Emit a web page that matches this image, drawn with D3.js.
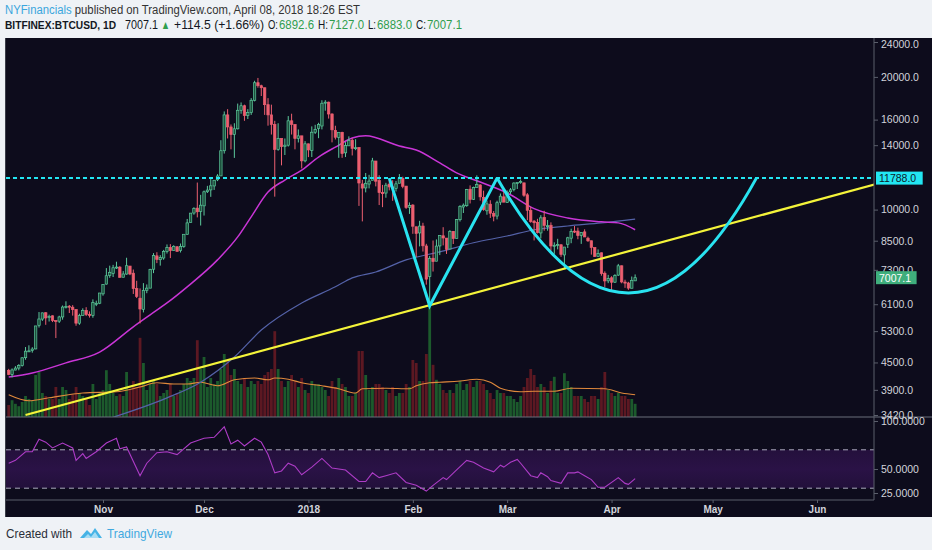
<!DOCTYPE html>
<html><head><meta charset="utf-8">
<script src="https://cdn.jsdelivr.net/npm/d3@7"></script>
<style>
html,body{margin:0;padding:0;background:#eff2f6;}
svg{display:block;}
</style>
</head><body>
<svg id="chart" width="932" height="550"></svg>
<script>
// ---------------- DATA ----------------
const startDate = "2017-10-04"; // first daily candle
// Oct 4-31, Nov, Dec, Jan, Feb, Mar, Apr 1-8
const opens = [
 4319,4229,4325,4370,4429,4614,4777,4790,4829,5464,5643,5835,5687,5741,5603,5583,5708,6006,6037,6006,5935,5524,5747,5904,5787,5754,6114,6132,
 6440,6777,7087,7164,7404,7403,7023,7141,7446,7173,6618,6295,5938,6561,6634,7324,7853,7697,7766,8039,8205,8077,8233,8074,8241,8790,9352,9823,10077,9906,
 10198,10978,11083,11315,11685,11923,13600,16400,15400,14800,15250,16800,17200,16350,16600,17700,19400,19100,18900,17300,16400,15600,13700,14500,13900,14000,15900,15600,14500,14700,12900,
 14100,13625,14978,15270,15477,17462,17527,16476,15123,14588,14968,13453,13952,14370,13767,13836,11432,11198,11429,11656,12889,11633,10944,10903,11421,11256,11175,11475,11755,11306,10109,
 10237,9142,8852,9175,8270,7051,7755,7637,8271,8720,8616,8141,8927,8599,9488,10135,10207,11123,10552,11231,11372,10660,9937,10287,9796,9669,10393,10687,
 10385,10977,11101,11497,11532,11500,10803,9951,9414,9350,8852,9602,9173,9214,8290,8322,8321,7891,8344,8613,8938,8939,8736,8901,8612,8499,8201,7836,7979,7171,6892,
 7003,6844,7102,7456,6848,6815,6631,6892.6
];
const highs = [
 4352,4362,4414,4460,4624,4878,4922,4874,5446,5856,5837,5852,5776,5755,5603,5744,6060,6194,6075,6071,5935,5805,5971,6006,5876,6255,6214,6470,
 6772,7367,7461,7492,7617,7445,7253,7776,7446,7312,6895,6625,6811,6764,7342,7967,8004,7884,8101,8336,8348,8302,8268,8375,8790,9523,9818,10125,11517,10801,
 11046,11320,11859,11657,12032,14369,16700,16900,15600,15700,17400,17500,17300,16900,17900,19600,19891,19200,18900,17900,17300,15900,15700,14500,14500,16300,16500,15600,15200,14700,14300,
 14112,15444,15572,15739,17705,17712,17579,16537,15497,14973,15018,14229,14659,14511,14445,13843,11678,12107,11992,13103,12895,11966,11377,11501,11785,11656,11614,12040,11875,11307,10381,
 10289,9142,9430,9334,8364,7850,8509,8558,8736,9122,8616,8985,8942,9518,10234,10324,11139,11349,11274,11958,11418,11039,10487,10501,9923,10475,10878,11089,
 11052,11190,11528,11512,11704,11500,10899,10148,9466,9531,9711,9937,9470,9355,8428,8585,8346,8202,8675,9051,9177,9100,8879,9021,8682,8499,8201,8122,7994,7243,7111,
 7060,7135,7530,7469,6933,6857,7050,7127
];
const lows = [
 4210,4164,4320,4319,4405,4564,4751,4736,4822,5400,5591,5478,5573,5556,5112,5531,5627,5965,5826,5747,5451,5478,5748,5734,5689,5684,6040,6103,
 6378,6758,7002,7031,7333,7000,7023,7115,7101,6436,6300,5519,5844,6461,6634,7176,7561,7463,7694,7949,7762,8075,8038,7992,8191,8775,9352,9736,9601,9202,
 9694,10905,10689,11081,11604,11923,13400,14500,13700,13100,15200,16500,15900,16050,16400,17600,18900,18100,16400,15500,14800,10700,13600,12600,13300,13900,14800,13700,14200,12400,12800,
 13154,13163,14844,14522,15202,16764,16087,14208,14424,13105,13105,13158,13952,13268,13641,10194,9402,10942,11172,11656,11288,10240,10129,10639,11057,10470,10989,11475,11179,10036,9777,
 8812,7797,8251,8031,6756,6048,7236,7637,7884,8295,7931,8141,8354,8599,9395,9824,10149,10326,10513,11231,10479,9939,9734,9574,9407,9501,10247,10393,
 10352,10850,11002,11136,11443,10694,9466,9334,8513,8828,8607,8956,8958,8068,7937,8124,7812,7354,8182,8389,8846,8564,8360,8665,8449,7905,7806,7809,7081,6677,6810,
 6526,6817,7072,6804,6644,6575,6630,6883
];
const closes = [
 4229,4328,4370,4426,4611,4773,4782,4826,5446,5647,5831,5678,5726,5605,5590,5708,6011,6031,6008,5930,5526,5750,5904,5780,5753,6153,6130,6468,
 6767,7078,7207,7379,7407,7022,7144,7459,7143,6618,6357,5950,6559,6635,7315,7871,7708,7790,8036,8200,8071,8253,8038,8253,8790,9330,9818,10058,9888,10233,
 10975,11074,11323,11657,11916,13600,16400,15400,14800,15250,16800,17200,16350,16600,17700,19400,19100,18900,17300,16400,15600,13700,14500,13900,14000,15900,15600,14500,14700,12900,14100,
 13657,14982,15201,15599,17429,17527,16477,15170,14595,14973,13405,13980,14360,13772,13819,11490,11188,11474,11607,12899,11600,10931,10868,11359,11259,11171,11440,11786,11296,10106,10221,
 9170,8830,9174,8277,6955,7754,7621,8265,8736,8621,8129,8926,8598,9494,10166,10233,11112,10551,11225,11403,10690,10005,10301,9813,9664,10366,10725,10397,
 10951,11086,11489,11512,11573,10779,9965,9395,9337,8866,9578,9205,9194,8269,8300,8338,7916,8223,8630,8913,8929,8728,8879,8668,8495,8209,7833,7954,7165,6890,6973,
 6844,7083,7456,6853,6811,6636,6911,7007.1
];
const volumes = [
 20,28,22,18,25,35,30,28,70,75,40,35,30,30,50,30,50,45,30,38,50,40,35,30,20,55,30,40,
 45,78,55,40,35,38,35,75,45,60,50,132,90,45,55,60,55,35,40,45,55,35,40,45,55,65,60,65,128,80,
 100,50,65,55,60,80,105,95,70,80,60,55,65,50,60,55,60,55,70,75,80,143,80,60,50,60,70,60,50,65,45,
 40,60,55,55,50,45,35,60,50,65,55,50,35,35,40,110,110,70,45,50,55,55,50,45,40,50,35,40,40,55,50,
 95,90,60,60,105,190,87,62,55,45,40,45,40,55,60,45,55,60,50,60,60,55,45,40,30,45,40,40,
 35,35,30,25,35,50,65,80,70,50,55,50,40,60,67,40,40,73,60,50,35,35,35,30,25,35,35,30,50,75,45,
 40,35,40,35,35,30,30,22
];
// volume moving average
const volMA = [
 ["2017-10-04",37],["2017-10-10",27],["2017-10-16",32],["2017-10-26",40],["2017-11-05",42],["2017-11-12",50],
 ["2017-11-17",57],["2017-11-22",55],["2017-11-26",55],["2017-11-30",58],["2017-12-05",52],["2017-12-10",62],
 ["2017-12-16",65],["2017-12-20",62],["2017-12-22",65],["2017-12-26",63],["2017-12-30",57],["2018-01-05",52],
 ["2018-01-10",47],["2018-01-15",40],["2018-01-17",47],["2018-01-24",48],["2018-01-31",47],["2018-02-02",52],
 ["2018-02-06",57],["2018-02-09",58],["2018-02-15",60],["2018-02-20",63],["2018-02-24",58],["2018-02-27",48],
 ["2018-03-05",42],["2018-03-09",43],["2018-03-15",43],["2018-03-20",48],["2018-03-30",47],["2018-04-04",40],["2018-04-08",37]
];
// 50-day moving average (magenta)
const ma50 = [
 ["2017-10-04",4170],["2017-10-11",4260],["2017-10-21",4490],["2017-10-31",4750],["2017-11-10",5420],["2017-11-15",5770],
 ["2017-11-20",6140],["2017-11-26",6680],["2017-12-05",7690],["2017-12-11",8670],["2017-12-15",9630],["2017-12-20",10960],
 ["2017-12-25",11670],["2017-12-30",12290],["2018-01-04",13160],["2018-01-09",13860],["2018-01-14",14530],["2018-01-18",14700],
 ["2018-01-28",13940],["2018-02-02",13650],["2018-02-09",12760],["2018-02-14",12110],["2018-02-21",11550],["2018-03-01",10910],
 ["2018-03-09",10050],["2018-03-19",9570],["2018-03-29",9380],["2018-04-03",9330],["2018-04-08",9000]
];
// 200-day moving average (blue)
const ma200 = [
 ["2017-11-04",3380],["2017-11-20",3740],["2017-11-30",4060],["2017-12-10",4630],["2017-12-18",5330],["2017-12-30",6140],
 ["2018-01-09",6680],["2018-01-14",7000],["2018-01-21",7220],["2018-01-30",7690],["2018-02-09",8020],["2018-02-19",8410],
 ["2018-03-01",8710],["2018-03-09",9000],["2018-03-19",9180],["2018-03-29",9330],["2018-04-08",9520]
];
// RSI(14)
const rsi = [
 ["2017-10-04",56],["2017-10-06",59],["2017-10-09",68],["2017-10-11",68],["2017-10-13",81],["2017-10-15",78],["2017-10-17",72],
 ["2017-10-20",77],["2017-10-23",72],["2017-10-24",59],["2017-10-26",66],["2017-10-27",61],["2017-10-30",68],["2017-11-02",77],
 ["2017-11-05",82],["2017-11-06",71],["2017-11-08",73],["2017-11-12",43],["2017-11-14",56],["2017-11-17",67],["2017-11-20",68],
 ["2017-11-23",65],["2017-11-27",77],["2017-12-01",82],["2017-12-04",83],["2017-12-07",94],["2017-12-09",76],["2017-12-11",80],
 ["2017-12-13",74],["2017-12-16",82],["2017-12-18",78],["2017-12-20",65],["2017-12-22",46],["2017-12-24",48],["2017-12-26",56],
 ["2017-12-28",53],["2017-12-30",44],["2018-01-02",52],["2018-01-05",61],["2018-01-08",51],["2018-01-12",49],["2018-01-16",37],
 ["2018-01-18",37],["2018-01-20",46],["2018-01-22",41],["2018-01-24",43],["2018-01-27",46],["2018-01-30",36],["2018-02-02",33],
 ["2018-02-05",27],["2018-02-07",33],["2018-02-10",41],["2018-02-11",39],["2018-02-14",49],["2018-02-17",59],["2018-02-19",57],
 ["2018-02-22",51],["2018-02-25",47],["2018-02-27",54],["2018-02-28",52],["2018-03-02",57],["2018-03-04",60],["2018-03-05",56],
 ["2018-03-08",43],["2018-03-10",41],["2018-03-11",46],["2018-03-13",42],["2018-03-14",38],["2018-03-17",35],["2018-03-19",46],
 ["2018-03-21",46],["2018-03-22",47],["2018-03-24",43],["2018-03-26",39],["2018-03-28",31],["2018-03-30",31],["2018-04-03",41],
 ["2018-04-05",35],["2018-04-06",34],["2018-04-08",40]
];
const priceTicks = [24000,20000,16000,14000,10000,8500,7300,6100,5300,4500,3900,3420];
const rsiTicks = [100,50,25];
const rsiBand = [70,30];
const monthDates = ["2017-11-01","2017-12-01","2018-01-01","2018-02-01","2018-03-01","2018-04-01","2018-05-01","2018-06-01"];
const monthLabels = ["Nov","Dec","2018","Feb","Mar","Apr","May","Jun"];
const resistance = 11788;
const lastPrice = 7007.1;
const trendLine = [["2017-10-09",3420],["2018-06-18",11400]];
const wPattern = [["2018-01-25",11788],["2018-02-06",6050],["2018-02-26",11788]];
const cupCurve = [["2018-02-26",11788],["2018-04-06",6470],["2018-05-14",11788]];

// ---------------- LAYOUT ----------------
const P = d3.utcParse("%Y-%m-%d");
const svg = d3.select("#chart");
const L = 6, R = 874, TOP = 38, MAINB = 417, RSIB = 500, BOT = 517;
const x = d3.scaleUtc().domain([P("2017-11-01"), P("2018-06-01")]).range([103, 817]);
const yP = d3.scaleLog().domain([3420, 24000]).range([415, 42]);
const yV = d3.scaleLinear().domain([0, 200]).range([MAINB, 297]);
const yR = d3.scaleLinear().domain([0, 100]).range([517, 421]);
const dayX = i => x(d3.utcDay.offset(P(startDate), i));

// background
svg.append("rect").attr("x",0).attr("y",0).attr("width",932).attr("height",550).attr("fill","#eff2f6");
svg.append("rect").attr("x",5).attr("y",TOP).attr("width",927).attr("height",BOT-TOP).attr("fill","#0d0c1c");

const defs = svg.append("defs");
defs.append("clipPath").attr("id","mainClip").append("rect").attr("x",L).attr("y",TOP).attr("width",R-L).attr("height",MAINB-TOP);
defs.append("clipPath").attr("id","rsiClip").append("rect").attr("x",L).attr("y",MAINB).attr("width",R-L).attr("height",RSIB-MAINB);

// ---------------- MAIN PANE ----------------
const main = svg.append("g").attr("clip-path","url(#mainClip)");
// volume
const vg = main.append("g");
volumes.forEach((v,i)=>{
  const up = closes[i] >= opens[i];
  vg.append("rect").attr("x",dayX(i)-1.4).attr("width",2.8)
    .attr("y",yV(v)).attr("height",MAINB-yV(v))
    .attr("fill", up ? "#1c5a2c" : "#5c1822");
});
const lineOf = (ys, curve) => d3.line().x(d=>x(P(d[0]))).y(d=>ys(d[1])).curve(curve||d3.curveMonotoneX);
main.append("path").attr("d",lineOf(yV)(volMA)).attr("fill","none").attr("stroke","#e0893c").attr("stroke-width",1.1);
// moving averages
main.append("path").attr("d",lineOf(yP)(ma200)).attr("fill","none").attr("stroke","#5462a8").attr("stroke-width",1.2);
main.append("path").attr("d",lineOf(yP)(ma50)).attr("fill","none").attr("stroke","#c935d6").attr("stroke-width",1.5);
// candles
const cg = main.append("g");
closes.forEach((c,i)=>{
  const o = opens[i], up = c >= o, cx = dayX(i);
  const col = up ? "#5cc99c" : "#ec5f70";
  cg.append("line").attr("x1",cx).attr("x2",cx).attr("y1",yP(highs[i])).attr("y2",yP(lows[i]))
    .attr("stroke",col).attr("stroke-width",1);
  const y1 = yP(Math.max(o,c)), y2 = yP(Math.min(o,c));
  cg.append("rect").attr("x",cx-1.2).attr("width",2.4).attr("y",y1).attr("height",Math.max(1,y2-y1))
    .attr("fill", up ? "#1d4f3c" : "#ec5f70").attr("stroke",col).attr("stroke-width",0.7);
});
// resistance dashed line
main.append("line").attr("x1",L).attr("x2",R).attr("y1",yP(resistance)).attr("y2",yP(resistance))
  .attr("stroke","#22e6f2").attr("stroke-width",2).attr("stroke-dasharray","4,3");
// yellow trend line
main.append("path").attr("d",d3.line().x(d=>x(P(d[0]))).y(d=>yP(d[1]))(trendLine))
  .attr("stroke","#f4f43a").attr("stroke-width",2.2).attr("fill","none");
// W pattern
main.append("path").attr("d",d3.line().x(d=>x(P(d[0]))).y(d=>yP(d[1]))(wPattern))
  .attr("stroke","#29e3f0").attr("stroke-width",3).attr("fill","none").attr("stroke-linejoin","miter");
// cup curve (quadratic through bottom point)
{
  const p0=[x(P(cupCurve[0][0])), yP(cupCurve[0][1])];
  const b=[x(P(cupCurve[1][0])), yP(cupCurve[1][1])];
  const p2=[x(P(cupCurve[2][0])), yP(cupCurve[2][1])];
  const cy = 2*b[1] - (p0[1]+p2[1])/2;
  const cxp = 2*b[0] - (p0[0]+p2[0])/2;
  const path = d3.path(); path.moveTo(p0[0],p0[1]); path.quadraticCurveTo(cxp,cy,p2[0],p2[1]);
  main.append("path").attr("d",path.toString()).attr("stroke","#29e3f0").attr("stroke-width",3).attr("fill","none");
}

// ---------------- RSI PANE ----------------
const rp = svg.append("g").attr("clip-path","url(#rsiClip)");
const grad = defs.append("linearGradient").attr("id","band").attr("x1",0).attr("x2",0).attr("y1",0).attr("y2",1);
grad.append("stop").attr("offset","0%").attr("stop-color","#24103c");
grad.append("stop").attr("offset","50%").attr("stop-color","#2a1246");
grad.append("stop").attr("offset","100%").attr("stop-color","#22103a");
rp.append("rect").attr("x",L).attr("width",R-L).attr("y",yR(rsiBand[0])).attr("height",yR(rsiBand[1])-yR(rsiBand[0])).attr("fill","url(#band)");
rsiBand.forEach(v=>{
  rp.append("line").attr("x1",L).attr("x2",R).attr("y1",yR(v)).attr("y2",yR(v))
    .attr("stroke","#a9a9bb").attr("stroke-width",1).attr("stroke-dasharray","5,4");
});
rp.append("path").attr("d",lineOf(yR, d3.curveLinear)(rsi)).attr("fill","none").attr("stroke","#ad3cc6").attr("stroke-width",1.1);

// ---------------- AXES & FRAME ----------------
const axisCol = "#5a5e6b", textCol = "#d2d4db";
svg.append("line").attr("x1",L).attr("x2",932).attr("y1",MAINB).attr("y2",MAINB).attr("stroke","#6a6e7a").attr("stroke-width",1);
svg.append("line").attr("x1",R).attr("x2",R).attr("y1",TOP).attr("y2",RSIB).attr("stroke",axisCol).attr("stroke-width",1);
svg.append("line").attr("x1",L).attr("x2",R).attr("y1",RSIB).attr("y2",RSIB).attr("stroke",axisCol).attr("stroke-width",1);
svg.append("line").attr("x1",5.5).attr("x2",5.5).attr("y1",TOP).attr("y2",BOT).attr("stroke","#3a3d48").attr("stroke-width",1);

function styleAxis(g){
  g.select(".domain").remove();
  g.selectAll(".tick line").attr("stroke",axisCol);
  g.selectAll(".tick text").attr("fill",textCol).style("font-family","'Liberation Sans',Arial,sans-serif").style("font-size","10.5px");
}
const pa = svg.append("g").attr("transform",`translate(${R},0)`)
  .call(d3.axisRight(yP).tickValues(priceTicks).tickFormat(d=>d.toFixed(1)).tickSize(4).tickPadding(3));
styleAxis(pa);
pa.selectAll(".tick").filter(d=>d===24000).select("text").attr("dy","0.55em");
const ra = svg.append("g").attr("transform",`translate(${R},0)`)
  .call(d3.axisRight(yR).tickValues(rsiTicks).tickFormat(d=>d.toFixed(4)).tickSize(4).tickPadding(3));
styleAxis(ra);
const xa = svg.append("g").attr("transform",`translate(0,${RSIB})`)
  .call(d3.axisBottom(x).tickValues(monthDates.map(P)).tickFormat((d,i)=>monthLabels[i]).tickSize(3).tickPadding(3));
styleAxis(xa);
xa.selectAll(".tick text").style("font-weight","bold").style("font-size","10px");

// value labels on the axis
function axisBox(val, bg, fg, txt){
  const yy = yP(val);
  svg.append("rect").attr("x",R+2).attr("y",yy-6.5).attr("width",txt.length*6.1+4).attr("height",13).attr("fill",bg);
  svg.append("text").attr("x",R+5).attr("y",yy+4).attr("fill",fg).text(txt)
    .style("font-family","'Liberation Sans',Arial,sans-serif").style("font-size","10.5px");
}
axisBox(resistance, "#22e6f2", "#0d1a2a", resistance.toFixed(1));
axisBox(lastPrice, "#3fae7c", "#ffffff", lastPrice.toFixed(1));

// ---------------- HEADER ----------------
const hf = "'Liberation Sans',Arial,sans-serif";
const t1 = svg.append("text").attr("x",5).attr("y",14).style("font-family",hf).style("font-size","12px").attr("fill","#333")
  .attr("textLength",355).attr("lengthAdjust","spacingAndGlyphs");
t1.append("tspan").attr("fill","#3ba6dd").text("NYFinancials");
t1.append("tspan").text(" published on TradingView.com, April 08, 2018 18:26 EST");
const green = "#2f9e4e";
const seg2 = [
 [5,116,"BITFINEX:BTCUSD, 1D","#131722",true,"12px"],[125,158,"7007.1","#131722"],[161,170,"▲",green],
 [174,264,"+114.5 (+1.66%)","#131722"],[268,278,"O:","#131722"],[279,314,"6892.6",green],
 [318,328,"H:","#131722"],[329,364,"7127.0",green],[368,376,"L:","#131722"],[377,412,"6883.0",green],
 [416,426,"C:","#131722"],[427,462,"7007.1",green]
];
seg2.forEach(s=>{
  const t = svg.append("text").attr("x",s[0]).attr("y",29).style("font-family",hf).style("font-size",s[5]||"12px")
    .attr("fill",s[3]).text(s[2]).attr("textLength",s[1]-s[0]).attr("lengthAdjust","spacingAndGlyphs");
  if(s[4]) t.style("font-weight","bold").style("font-size","11px");
});

// ---------------- FOOTER ----------------
svg.append("text").attr("x",6).attr("y",538).text("Created with").attr("fill","#2a2e39")
  .style("font-family",hf).style("font-size","13px").attr("textLength",66).attr("lengthAdjust","spacingAndGlyphs");
const logo = svg.append("g").attr("transform","translate(80,527)");
logo.append("path").attr("d","M0,11 L7,3 L11,7 L15,1 L22,11 Z").attr("fill","#45b3e6");
logo.append("path").attr("d","M4,11 L8,7 L11,10 L15,5 L19,11 Z").attr("fill","#a6dcf4");
svg.append("text").attr("x",107).attr("y",538).text("TradingView").attr("fill","#3fa9e0")
  .style("font-family",hf).style("font-size","13px").attr("textLength",65).attr("lengthAdjust","spacingAndGlyphs");
</script>
</body></html>
